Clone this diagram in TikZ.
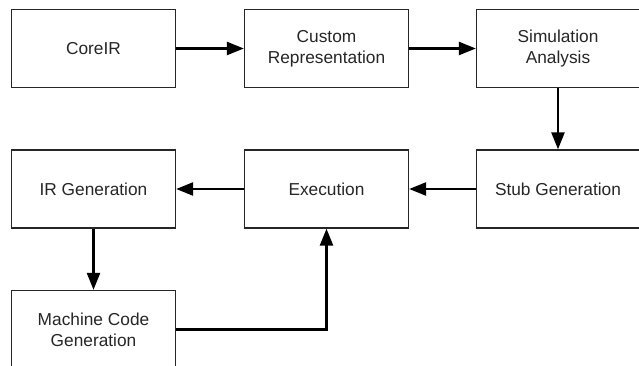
\documentclass[tikz,border=0pt]{standalone}
\usepackage{fontspec}
\setmainfont{Liberation Sans}
\usetikzlibrary{arrows.meta}
\begin{document}
\begin{tikzpicture}[x=1pt,y=-1pt,
  stage/.style={draw=black!85, line width=1.3pt, fill=white, minimum width=164pt,
    minimum height=78pt, inner sep=0pt, align=center, text=black!85,
    font=\fontsize{17.3}{21}\selectfont},
  flow/.style={line width=2.4pt, -{Triangle[length=17pt,width=13pt]}}]
\useasboundingbox (0,0) rectangle (639,366);
\begin{scope}
\clip (0,0) rectangle (639,366);
\node[stage] (core) at (93.5,48.5) {CoreIR};
\node[stage] (cust) at (326.5,48.5) {Custom\\Representation};
\node[stage, minimum width=163pt] (sim) at (558,48.5) {Simulation\\Analysis};
\node[stage, minimum width=163pt] (stub) at (558,189) {Stub Generation};
\node[stage] (exec) at (326.5,189) {Execution};
\node[stage] (irg) at (93.5,189) {IR Generation};
\node[stage] (mcg) at (93.5,329.5) {Machine Code\\Generation};
\end{scope}
\draw[flow] (core) -- (cust);
\draw[flow] (cust) -- (sim);
\draw[flow] (sim) -- (stub);
\draw[flow] (stub) -- (exec);
\draw[flow] (exec) -- (irg);
\draw[flow] (irg) -- (mcg);
\draw[flow] (mcg.east) -| (exec.south);
\end{tikzpicture}
\end{document}
